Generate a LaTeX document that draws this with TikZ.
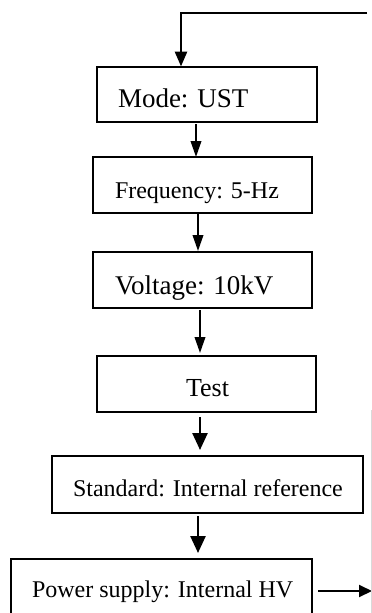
\documentclass[tikz,border=0pt]{standalone}
\usepackage{fontspec}
\setmainfont{Liberation Serif}
\usetikzlibrary{arrows.meta}
\tikzset{
  box/.style={draw, line width=1.9pt, inner sep=0pt, outer sep=0pt},
  lbl/.style={inner sep=0pt, outer sep=0pt, anchor=base west},
  arr/.style={line width=2.1pt, -{Triangle[length=16pt,width=10.5pt]}},
  bigarr/.style={line width=2.5pt, -{Triangle[length=17pt,width=15pt]}},
  toparr/.style={line width=2.8pt, line join=miter, -{Triangle[length=15pt,width=12pt]}},
  sarr/.style={line width=2pt, -{Triangle[length=13pt,width=12pt]}},
}
\newcommand{\fsz}[1]{\fontsize{#1}{#1}\selectfont}
\begin{document}
\begin{tikzpicture}[x=1pt,y=-1pt]
\useasboundingbox (0,0) rectangle (372,613);
\clip (0,0) rectangle (372,613);
% boxes
\node[box, minimum width=220pt, minimum height=55pt] (mode) at (207,94.5) {};
\node[box, minimum width=219pt, minimum height=56pt] (freq) at (202.5,185) {};
\node[box, minimum width=219pt, minimum height=56pt] (volt) at (202.5,280) {};
\node[box, minimum width=219pt, minimum height=56pt] (test) at (206.5,384) {};
\node[box, minimum width=311pt, minimum height=57pt] (std) at (207.5,484.5) {};
\node[box, minimum width=301pt, minimum height=70pt] (pow) at (161.5,594) {};
% labels
\node[lbl] (tmode) at (118,107) {\fsz{27}Mode: UST};
\node[lbl] (tfreq) at (115,198) {\fsz{24}Frequency: 5-Hz};
\node[lbl] (tvolt) at (115,294) {\fsz{27}Voltage: 10kV};
\node[inner sep=0pt, anchor=base] (ttest) at (207.5,396) {\fsz{26}Test};
\node[lbl] (tstd) at (73,496) {\fsz{24}Standard: Internal reference};
\node[lbl] (tpow) at (32,597) {\fsz{24}Power supply: Internal HV};
% connector coordinates
\coordinate (topr) at (367,13);
\coordinate (x0) at (181,0);
\coordinate (x1) at (196,0);
\coordinate (x2) at (198,0);
\coordinate (x3) at (200,0);
\coordinate (x4) at (200,0);
\coordinate (x5) at (198,0);
\coordinate (out) at (372,591);
% connectors
\draw[toparr] (topr) -| ([yshift=0.5pt]mode.north -| x0);
\draw[arr] ([yshift=-2pt]mode.south -| x1) -- (freq.north -| x1);
\draw[arr] (freq.south -| x2) -- ([yshift=1pt]volt.north -| x2);
\draw[arr] ([yshift=-2pt]volt.south -| x3) -- ([yshift=3pt]test.north -| x3);
\draw[bigarr] ([yshift=-5pt]test.south -| x4) -- ([yshift=6pt]std.north -| x4);
\draw[bigarr] ([yshift=-3pt]std.south -| x5) -- ([yshift=6pt]pow.north -| x5);
\draw[sarr] ([xshift=6pt]pow.east |- out) -- (out);
% faint edge line
\draw[black!15, line width=0.8pt] (371,410) -- (371,613);
\end{tikzpicture}
\end{document}
